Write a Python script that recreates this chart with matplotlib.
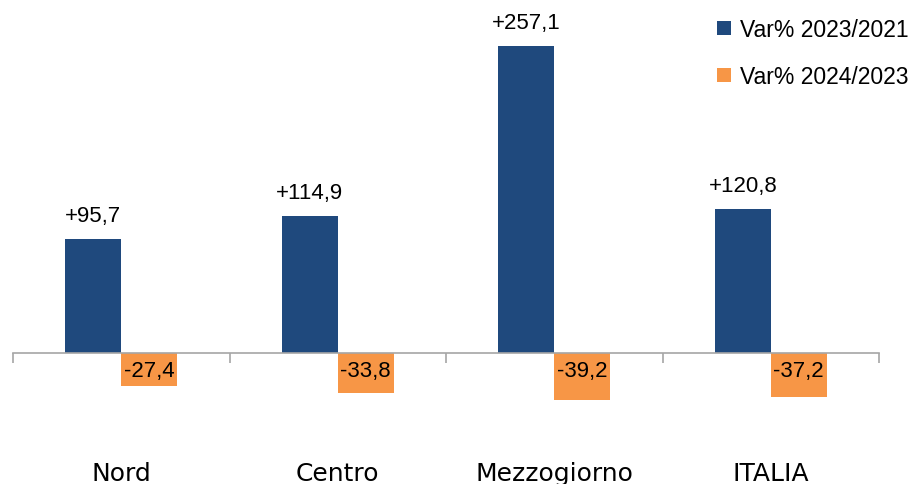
import numpy as np
import matplotlib
matplotlib.use("Agg")
import matplotlib.pyplot as plt

# dati
categorie = ["Nord", "Centro", "Mezzogiorno", "ITALIA"]
var_2023_2021 = [95.7, 114.9, 257.1, 120.8]
var_2024_2023 = [-27.4, -33.8, -39.2, -37.2]
serie = ["Var% 2023/2021", "Var% 2024/2023"]

blu = "#1F497D"
arancio = "#F79646"

plt.rcParams["font.family"] = ["Liberation Sans", "DejaVu Sans"]

fig = plt.figure(figsize=(9.14, 4.85), dpi=100)
ax = fig.add_axes([13 / 914, 63 / 485, 866 / 914, 400 / 485])

x = np.arange(len(categorie))
w = 0.258
b1 = ax.bar(x - w / 2, var_2023_2021, w, color=blu, label=serie[0], zorder=1)
b2 = ax.bar(x + w / 2, var_2024_2023, w, color=arancio, label=serie[1], zorder=1)

for r, v in zip(b1, var_2023_2021):
    ax.annotate(f"+{v:.1f}".replace(".", ","), (r.get_x() + r.get_width() / 2, v),
                xytext=(0, 17), textcoords="offset points", ha="center", va="center",
                fontsize=16)
for r, v in zip(b2, var_2024_2023):
    ax.annotate(f"{v:.1f}".replace(".", ","), (r.get_x() + r.get_width() / 2, 0),
                xytext=(0, -13), textcoords="offset points", ha="center", va="center",
                fontsize=16, zorder=3)

ax.set_xlim(-0.5, len(categorie) - 0.5)
ax.set_ylim(-57, 278)
for s in ["top", "right", "left"]:
    ax.spines[s].set_visible(False)
ax.spines["bottom"].set_position(("data", 0))
ax.spines["bottom"].set_color("#A6A6A6")
ax.spines["bottom"].set_linewidth(1.2)
ax.spines["bottom"].set_zorder(2)
ax.set_yticks([])

ax.set_xticks(x)
ax.set_xticklabels(categorie, fontsize=18, family="DejaVu Sans")
ax.set_xticks(np.arange(len(categorie) + 1) - 0.5, minor=True)
ax.tick_params(axis="x", which="major", length=0, pad=78)
ax.tick_params(axis="x", which="minor", length=7, width=1.2, color="#A6A6A6", direction="out")

fig.legend(loc="upper left", bbox_to_anchor=(708 / 914, 1 - 10 / 485), borderaxespad=0,
           frameon=False, fontsize=16.5, handlelength=0.6, handleheight=0.6,
           handletextpad=0.4, labelspacing=1.05)

fig.savefig("out.png", dpi=100)
